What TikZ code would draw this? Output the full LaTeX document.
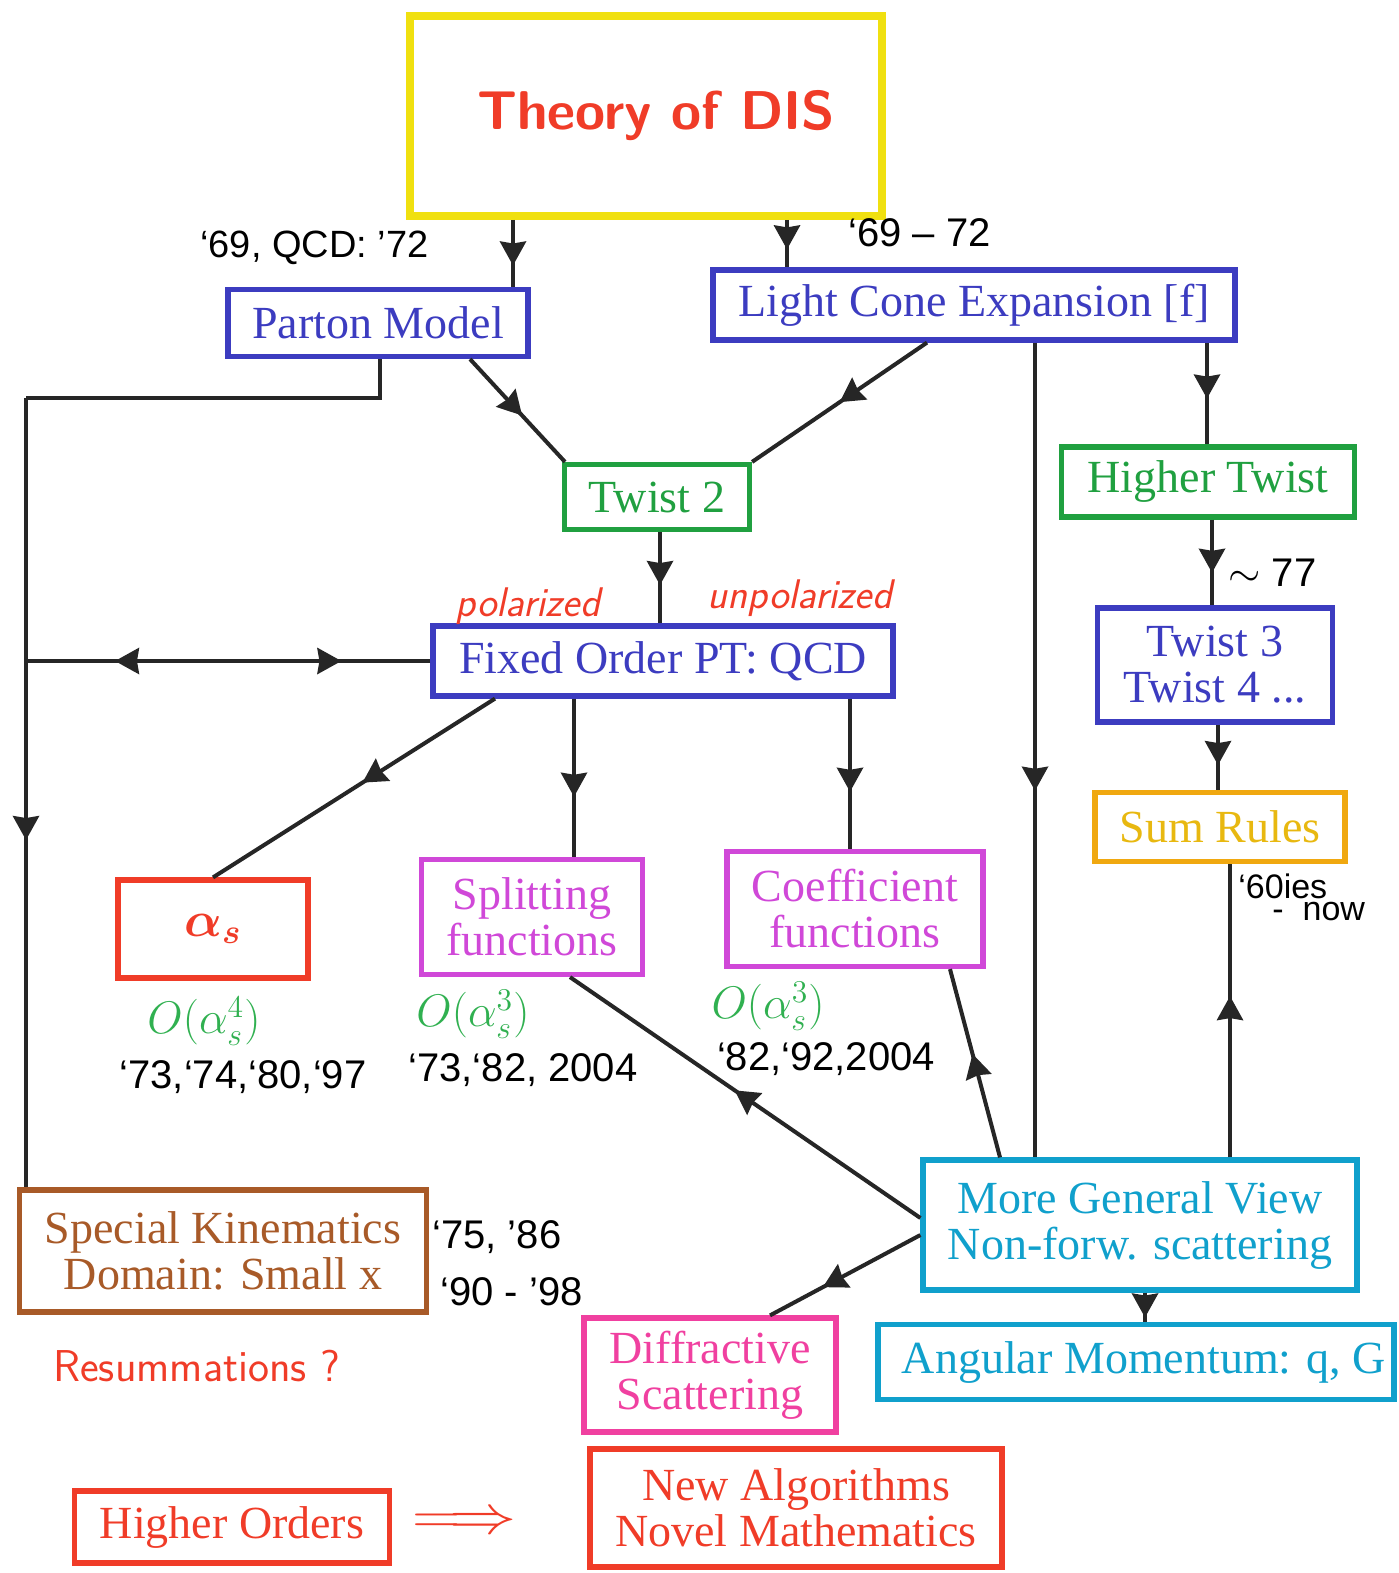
\documentclass[tikz,border=0pt]{standalone}
\usepackage{graphicx}
\usepackage{fontspec}
\setmainfont{Liberation Serif}
\newfontfamily\hv{Liberation Sans}
\usetikzlibrary{arrows.meta,decorations.markings,calc}
\definecolor{cyel}{HTML}{F0E010}
\definecolor{cred}{HTML}{F03C28}
\definecolor{cblue}{HTML}{3C3CC0}
\definecolor{cgreen}{HTML}{20A040}
\definecolor{corange}{HTML}{F0A810}
\definecolor{corangetxt}{HTML}{E8B810}
\definecolor{cmag}{HTML}{D048D8}
\definecolor{cbrown}{HTML}{A85A28}
\definecolor{ccyan}{HTML}{10A0CC}
\definecolor{cpink}{HTML}{F040A0}
\definecolor{cgmath}{HTML}{30B050}
\begin{document}
\begin{tikzpicture}[x=0.5pt,y=-0.5pt,
  >={Stealth[length=12pt,width=13pt,inset=1pt]},
  box/.style={draw, line width=2.6pt, align=center, inner sep=0pt, font=\fontsize{23}{23}\selectfont},
  lab/.style={inner sep=0pt, font=\hv\fontsize{20}{20}\selectfont},
  mth/.style={inner sep=0pt, text=cgmath, font=\fontsize{21}{21}\selectfont},
  con/.style={line width=2pt, black!85},
  marr/.style={con, decoration={markings, mark=at position #1 with {\arrow{>}}}, postaction={decorate}},
  marr/.default=0.5,
  dmarr/.style={con, decoration={markings, mark=at position 0.22 with {\arrowreversed{>}}, mark=at position 0.78 with {\arrow{>}}}, postaction={decorate}}
]
\useasboundingbox (0,0) rectangle (1398,1573);
% boxes
\node[box, draw=cyel, line width=4pt, minimum width=236pt, minimum height=100pt, text=cred, font=\sffamily\bfseries\fontsize{27.3}{27.3}\selectfont] (theory) at (646,116) {\hspace{10pt}Theory of DIS};
\node[box, draw=cblue, text=cblue, minimum width=150pt, minimum height=33.5pt] (parton) at (378,323) {Parton Model};
\node[box, draw=cblue, text=cblue, minimum width=261pt, minimum height=35pt] (lce) at (974,305) {Light Cone Expansion [f]};
\node[box, draw=cgreen, text=cgreen, minimum width=92.5pt, minimum height=32.5pt] (tw2) at (657,497) {Twist 2};
\node[box, draw=cgreen, text=cgreen, minimum width=146.5pt, minimum height=35pt] (htw) at (1208,482) {Higher Twist};
\node[box, draw=cblue, text=cblue, minimum width=230pt, minimum height=35pt] (fo) at (663,661) {Fixed Order PT: QCD};
\node[box, draw=cblue, text=cblue, minimum width=117.5pt, minimum height=57pt] (tw34) at (1215,665) {Twist 3\\Twist 4 ...};
\node[box, draw=corange, text=corangetxt, minimum width=125pt, minimum height=34.5pt] (sum) at (1220,827) {Sum Rules};
\node[box, draw=cred, text=cred, minimum width=95pt, minimum height=49pt] (alphas) at (213,929) {{\boldmath$\alpha_s$}};
\node[box, draw=cmag, text=cmag, minimum width=110.5pt, minimum height=57.5pt] (split) at (532,917) {Splitting\\functions};
\node[box, draw=cmag, text=cmag, minimum width=128pt, minimum height=57.5pt] (coef) at (855,909) {Coefficient\\functions};
\node[box, draw=cbrown, text=cbrown, minimum width=203.5pt, minimum height=61pt] (spec) at (223,1251) {Special Kinematics\\Domain: Small x};
\node[box, draw=ccyan, text=ccyan, minimum width=217pt, minimum height=65pt] (more) at (1140,1225) {More General View\\Non-forw. scattering};
\node[box, draw=cpink, text=cpink, minimum width=126pt, minimum height=57pt] (diff) at (710,1375) {Diffractive\\Scattering};
\node[box, draw=ccyan, text=ccyan, minimum width=258pt, minimum height=37.5pt] (ang) at (1136,1362) {\hspace{8pt}Angular Momentum: q, G};
\node[box, draw=cred, text=cred, minimum width=157.5pt, minimum height=36pt] (hord) at (232,1527) {Higher Orders};
\node[box, draw=cred, text=cred, minimum width=206pt, minimum height=59pt] (newalg) at (796,1508) {New Algorithms\\Novel Mathematics};
% labels
\node[lab, anchor=west, font=\hv\fontsize{19}{19}\selectfont] (l1) at (200,248) {‘69, QCD: ’72};
\node[lab, anchor=west] (l2) at (848,233) {‘69 – 72};
\node[inner sep=0pt, text=cred, font=\sffamily\itshape\fontsize{20.7}{20.7}\selectfont] (pol) at (528,606) {polarized};
\node[inner sep=0pt, text=cred, font=\sffamily\itshape\fontsize{20.7}{20.7}\selectfont] (unpol) at (800,598) {unpolarized};
\node[lab, anchor=west] (l77) at (1228,573) {$\sim$ 77};
\node[lab, anchor=west, font=\hv\fontsize{17}{17}\selectfont] (l60) at (1238,886) {‘60ies};
\node[lab, anchor=west, font=\hv\fontsize{17}{17}\selectfont] (lnow) at (1272,912) {-\ \ now};
\node[mth] (o1) at (204,1021) {\scalebox{1.1}{$O(\alpha_s^4)$}};
\node[lab] (y1) at (243,1077) {‘73,‘74,‘80,‘97};
\node[mth] (o2) at (473,1014) {\scalebox{1.1}{$O(\alpha_s^3)$}};
\node[lab] (y2) at (523,1070) {‘73,‘82, 2004};
\node[mth] (o3) at (768,1006) {\scalebox{1.1}{$O(\alpha_s^3)$}};
\node[lab] (y3) at (826,1059) {‘82,‘92,2004};
\node[lab, anchor=west] (y4) at (432,1237) {‘75, ’86};
\node[lab, anchor=west] (y5) at (440,1292) {‘90 - ’98};
\node[inner sep=0pt, text=cred, font=\sffamily\fontsize{22.3}{22.3}\selectfont] (resum) at (197,1366) {Resummations ?};
\node[inner sep=0pt, text=cred, font=\fontsize{24.88}{24.88}\selectfont] (impl) at (465,1523) {\scalebox{1.35}[1.1]{$\Longrightarrow$}};
% helper coordinates
\coordinate (xa) at (513,0);
\coordinate (xb) at (787,0);
\coordinate (xc) at (660,0);
\coordinate (xd) at (574,0);
\coordinate (xe) at (850,0);
\coordinate (xf) at (1035,0);
\coordinate (xg) at (1207,0);
\coordinate (xh) at (1212,0);
\coordinate (xi) at (1218,0);
\coordinate (xj) at (1230,0);
\coordinate (xk) at (1145,0);
\coordinate (cL) at (26,398);
% connectors
\draw[marr=0.68] (theory.south -| xa) -- (parton.north -| xa);
\draw[marr=0.62] (theory.south -| xb) -- (lce.north -| xb);
\draw[marr=0.55] ($(parton.south)+(92,0)$) -- ($(tw2.north)+(-92,0)$);
\draw[marr=0.5] ($(lce.south)+(-47,0)$) -- (tw2.north east);
\draw[con] ($(parton.south)+(2,0)$) |- (cL);
\draw[marr=0.56] (cL) -- (spec.north -| cL);
\draw[dmarr] (fo.west) -- (fo.west -| cL);
\draw[marr=0.58] (tw2.south -| xc) -- (fo.north -| xc);
\draw[marr=0.47] ($(fo.south)+(-168,0)$) -- (alphas.north);
\draw[marr=0.62] (fo.south -| xd) -- (split.north -| xd);
\draw[marr=0.62] (fo.south -| xe) -- (coef.north -| xe);
\draw[marr=0.55] (lce.south -| xf) -- (more.north -| xf);
\draw[marr=0.55] (lce.south -| xg) -- (htw.north -| xg);
\draw[marr=0.62] (htw.south -| xh) -- (tw34.north -| xh);
\draw[marr=0.62] (tw34.south -| xi) -- (sum.north -| xi);
\draw[marr=0.55] (more.north -| xj) -- (sum.south -| xj);
\draw[marr=0.55] ($(more.north)+(-140,0)$) -- ($(coef.south)+(95,0)$);
\draw[marr=0.53] ($(more.west)+(0,-7)$) -- ($(split.south)+(38,0)$);
\draw[marr=0.65] ($(more.west)+(0,10)$) -- ($(diff.north)+(60,0)$);
\draw[marr=0.85] (more.south -| xk) -- (ang.north -| xk);
\end{tikzpicture}
\end{document}
